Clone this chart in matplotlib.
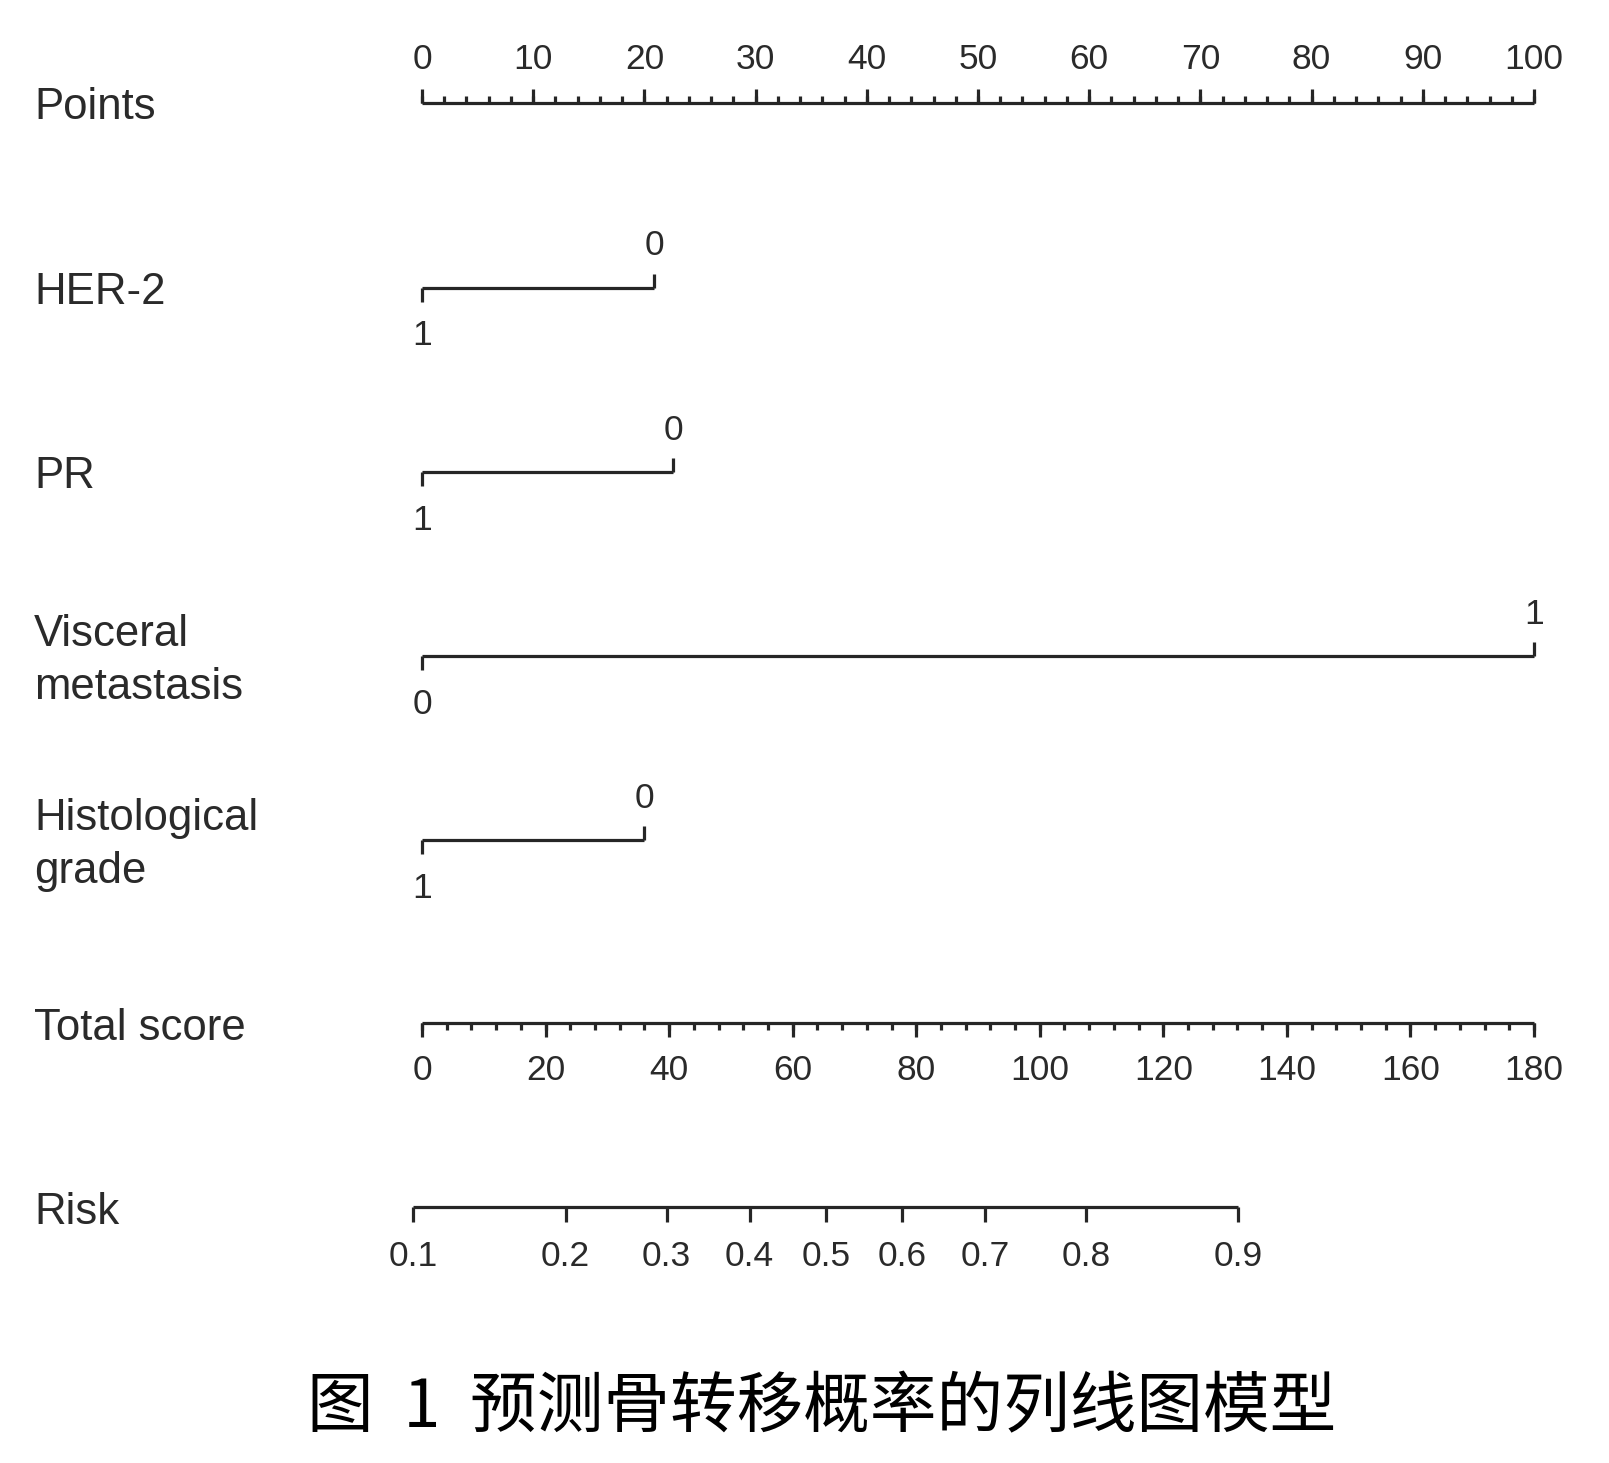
import numpy as np
import matplotlib
matplotlib.use("Agg")
import matplotlib.pyplot as plt

# ---------------- data ----------------
points_major = list(range(0, 101, 10))
points_minor = list(range(0, 101, 2))

var_names = ["Points", "HER-2", "PR", "Visceral\nmetastasis", "Histological\ngrade", "Total score", "Risk"]

her2_levels = ["1", "0"]
her2_points = [0.0, 20.9]
pr_levels = ["1", "0"]
pr_points = [0.0, 22.6]
visceral_levels = ["0", "1"]
visceral_points = [0.0, 100.0]
grade_levels = ["1", "0"]
grade_points = [0.0, 20.0]

total_major = list(range(0, 181, 20))
total_minor = list(range(0, 181, 4))
total_max = 180.0

risk_ticks = [0.1, 0.2, 0.3, 0.4, 0.5, 0.6, 0.7, 0.8, 0.9]
risk_labels = ["0.1", "0.2", "0.3", "0.4", "0.5", "0.6", "0.7", "0.8", "0.9"]
b0 = -2.151   # intercept of linear predictor
b1 = 0.03291  # slope per total point

caption = "图  1  预测骨转移概率的列线图模型"

# ---------------- layout ----------------
W, H = 1609, 1463
X0, PX_PER_PT = 422.0, 11.12  # pixel of 0 points and scale

fig = plt.figure(figsize=(W / 100, H / 100), dpi=100)
ax = fig.add_axes([0, 0, 1, 1])
ax.set_xlim(-X0 / PX_PER_PT, (W - X0) / PX_PER_PT)
ax.set_ylim(H, 0)
ax.axis("off")

LC = "#262626"
TC = "#2a2a2a"
LW = 2.3
FS_LAB = 31.5
FS_TICK = 25.5
FONT = ["Liberation Sans", "DejaVu Sans"]
label_x = (34 - X0) / PX_PER_PT

def hline(x1, x2, y):
    ax.plot([x1, x2], [y, y], color=LC, lw=LW, solid_capstyle="butt")

def vtick(x, y, length):
    ax.plot([x, x], [y, y + length], color=LC, lw=LW, solid_capstyle="butt")

def tlabel(x, y, s):
    ax.text(x, y, s, ha="center", va="center", fontsize=FS_TICK, color=TC, family=FONT)

row_y = [102.5, 287.5, 472.0, 656.0, 840.0, 1023.0, 1207.0]

# left labels
for name, y in zip(var_names, row_y):
    ax.text(label_x, y + 5, name, ha="left", va="center", fontsize=FS_LAB, color=TC,
            family=FONT, linespacing=1.36)

# Points axis
y = row_y[0]
hline(points_major[0], points_major[-1], y)
for p in points_minor:
    vtick(p, y, -7)
for p in points_major:
    vtick(p, y, -14)
    tlabel(p, y - 43, str(p))

# categorical variables
def cat_row(levels, pts, y):
    hline(min(pts), max(pts), y)
    order = np.argsort(pts)
    for k, i in enumerate(order):
        if k % 2 == 0:
            vtick(pts[i], y, 14)
            tlabel(pts[i], y + 48, levels[i])
        else:
            vtick(pts[i], y, -14)
            tlabel(pts[i], y - 42, levels[i])

cat_row(her2_levels, her2_points, row_y[1])
cat_row(pr_levels, pr_points, row_y[2])
cat_row(visceral_levels, visceral_points, row_y[3])
cat_row(grade_levels, grade_points, row_y[4])

# Total score axis
def tot2pt(t):
    return np.asarray(t, dtype=float) * 100.0 / total_max

y = row_y[5]
hline(tot2pt(0), tot2pt(total_max), y)
for t in total_minor:
    vtick(tot2pt(t), y, 7)
for t in total_major:
    vtick(tot2pt(t), y, 14)
    tlabel(tot2pt(t), y + 48, str(t))

# Risk axis
def risk2total(p):
    p = np.asarray(p, dtype=float)
    return (np.log(p / (1 - p)) - b0) / b1

y = row_y[6]
rx = tot2pt(risk2total(risk_ticks))
hline(rx[0], rx[-1], y)
for x, s in zip(rx, risk_labels):
    vtick(x, y, 15)
    tlabel(x, y + 49, s)

# caption
fig.text(822 / W, 1 - 1409 / H, caption, ha="center", va="center", fontsize=48,
         color="black", family=["Noto Sans CJK SC", "DejaVu Sans"])

fig.savefig("out.png", dpi=100, facecolor="white")
